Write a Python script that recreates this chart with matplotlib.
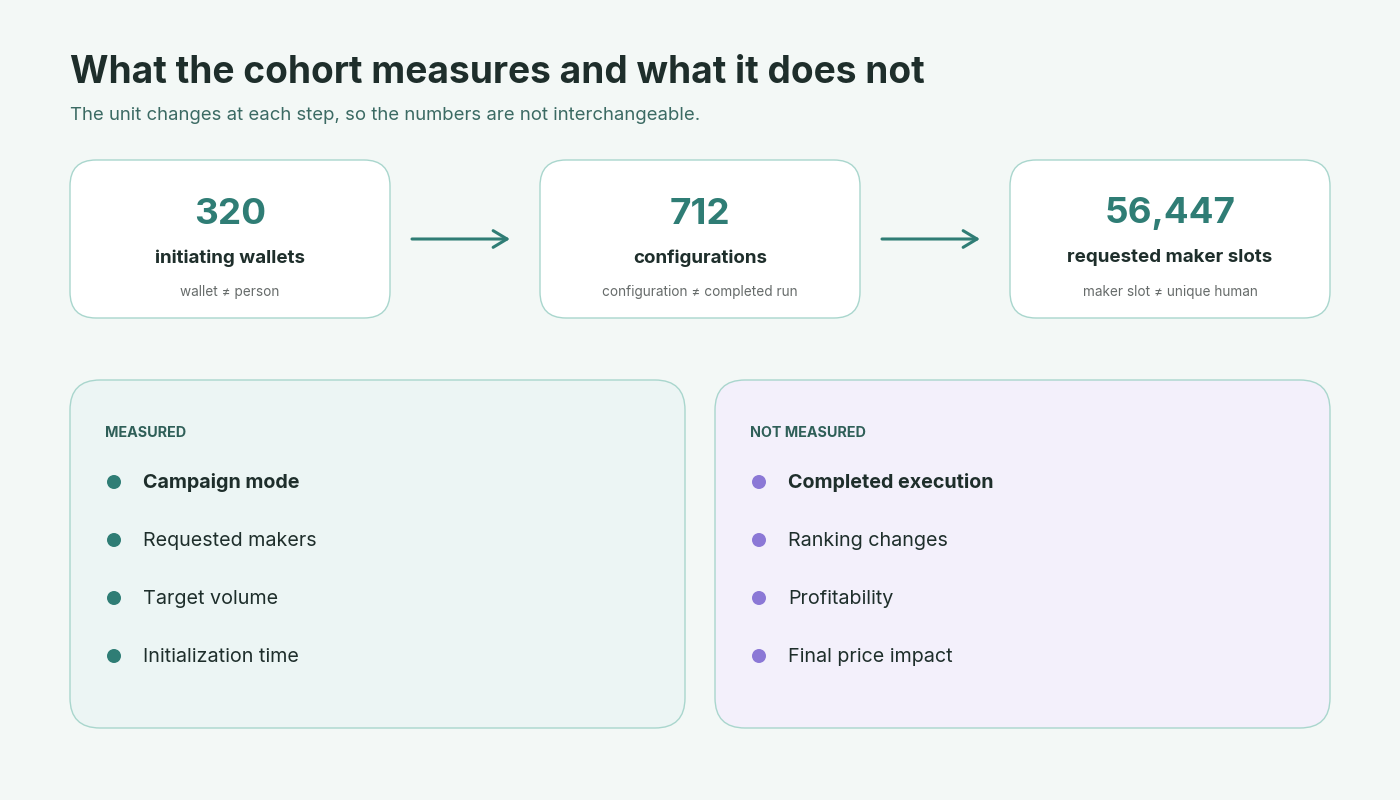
import matplotlib
matplotlib.use("Agg")
import matplotlib.pyplot as plt
from matplotlib.patches import FancyBboxPatch, Circle, FancyArrowPatch

# ---- data ----
title = "What the cohort measures and what it does not"
subtitle = "The unit changes at each step, so the numbers are not interchangeable."
step_values = [320, 712, 56447]
step_labels = ["initiating wallets", "configurations", "requested maker slots"]
step_notes = ["wallet \u2260 person", "configuration \u2260 completed run", "maker slot \u2260 unique human"]
measured_header = "MEASURED"
measured_items = ["Campaign mode", "Requested makers", "Target volume", "Initialization time"]
not_measured_header = "NOT MEASURED"
not_measured_items = ["Completed execution", "Ranking changes", "Profitability", "Final price impact"]

# ---- style ----
FONT = ["Inter", "DejaVu Sans"]
plt.rcParams['font.family'] = FONT
BG = "#f3f8f6"
TEAL = "#2f7d75"
DARK = "#1e2e2b"
SUB = "#3b6a63"
BORDER = "#a9d6cd"
GRAY = "#666b6a"
PURPLE = "#8b78d6"

fig = plt.figure(figsize=(14, 8), dpi=100)
fig.patch.set_facecolor(BG)
ax = fig.add_axes([0, 0, 1, 1])
ax.set_xlim(0, 1400)
ax.set_ylim(800, 0)
ax.axis("off")
ax.set_facecolor(BG)

ax.text(70, 73, title, fontsize=26.7, fontweight="bold", color=DARK, va="center", ha="left")
ax.text(70, 115, subtitle, fontsize=13.35, color=SUB, va="center", ha="left")

# ---- step cards ----
card_x = [70, 540, 1010]
card_w, card_y, card_h = 320, 160, 158
for i, (v, lab, note) in enumerate(zip(step_values, step_labels, step_notes)):
    x0 = card_x[i]
    box = FancyBboxPatch((x0, card_y), card_w, card_h,
                         boxstyle="round,pad=0,rounding_size=26",
                         facecolor="white", edgecolor=BORDER, linewidth=1.0)
    ax.add_patch(box)
    cx = x0 + card_w / 2
    ax.text(cx, 214, f"{v:,}", fontsize=26.5, fontweight="bold", color=TEAL, ha="center", va="center")
    ax.text(cx, 258, lab, fontsize=13.5, fontweight="bold", color=DARK, ha="center", va="center")
    ax.text(cx, 292, note, fontsize=9.8, color=GRAY, ha="center", va="center")
    if i < len(step_values) - 1:
        ax.add_patch(FancyArrowPatch((x0 + card_w + 22, 239), (card_x[i + 1] - 30, 239),
                                     arrowstyle="->,head_length=10,head_width=6",
                                     color=TEAL, linewidth=2.2, mutation_scale=1,
                                     shrinkA=0, shrinkB=0))

# ---- panels ----
panels = [
    (70, measured_header, measured_items, "#ecf5f4", TEAL),
    (715, not_measured_header, not_measured_items, "#f3f0fb", PURPLE),
]
pw, py, ph = 615, 380, 348
item_y = [482, 540, 598, 656]
for x0, header, items, fill, dot in panels:
    ax.add_patch(FancyBboxPatch((x0, py), pw, ph,
                                boxstyle="round,pad=0,rounding_size=30",
                                facecolor=fill, edgecolor=BORDER, linewidth=1.0))
    ax.text(x0 + 35, 433, header, fontsize=10.3, fontweight="bold", color="#2f5f58",
            ha="left", va="center")
    for j, (it, yy) in enumerate(zip(items, item_y)):
        ax.add_patch(Circle((x0 + 44, yy), 7, facecolor=dot, edgecolor="none"))
        ax.text(x0 + 73, yy + 1, it, fontsize=14.2, fontweight="bold" if j == 0 else "normal",
                color=DARK, ha="left", va="center")

fig.savefig("out.png", dpi=100, facecolor=BG)
